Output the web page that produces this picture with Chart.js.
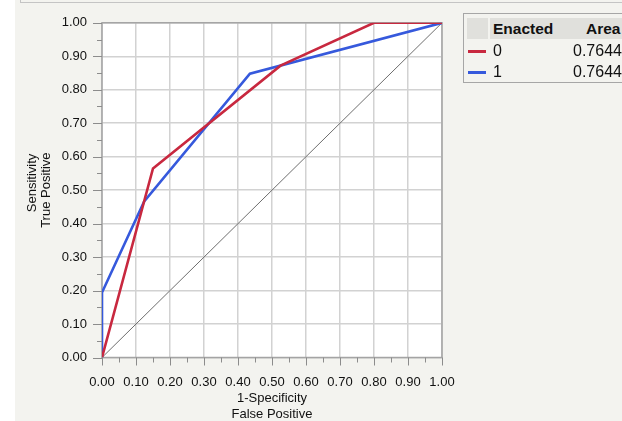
<!DOCTYPE html>
<html>
<head>
<meta charset="utf-8">
<script src="https://cdn.jsdelivr.net/npm/chart.js@4/dist/chart.umd.min.js"></script>
<style>
  html, body { margin: 0; padding: 0; }
  body {
    width: 622px; height: 421px; overflow: hidden; position: relative;
    background: #f3f3ef; font-family: "Liberation Sans", Arial, sans-serif;
  }
  #whiteStrip { position: absolute; left: 0; top: 0; width: 15px; height: 421px; background: #fff; }
  #topEdge { position: absolute; left: 20px; top: -10px; width: 700px; height: 11px; border: 1px solid #c4c4c4; }
  #wrap { position: absolute; left: 0; top: 0; width: 622px; height: 425px; }
  #legendBox {
    position: absolute; left: 463px; top: 13px; width: 200px; height: 68px;
    border: 1px solid #a6a6a6; color: #111;
  }
  .hdr { position: absolute; top: 4px; height: 21px; background: #e0e0dc; }
  .hdrText { font-weight: bold; font-size: 15.5px; line-height: 21px; padding-left: 3px; }
  .row { position: absolute; left: 0; width: 200px; height: 20px; font-size: 16px; line-height: 20px; }
  .swatch { position: absolute; left: 4px; top: 9px; width: 18px; height: 3px; }
  .grp { position: absolute; left: 29px; }
  .area { position: absolute; left: 109px; }
</style>
</head>
<body>
<div id="whiteStrip"></div>
<div id="topEdge"></div>
<div id="wrap"><canvas id="roc" width="622" height="425"></canvas></div>
<div id="legendBox">
  <div class="hdr" style="left:3px;width:21px;"></div>
  <div class="hdr hdrText" style="left:26px;width:71px;">Enacted</div>
  <div class="hdr hdrText" style="left:99px;width:120px;padding-left:23px;">Area</div>
  <div id="legendRows"></div>
</div>
<script>
// ROC points
const fprEnacted0 = [0, 0.15, 0.525, 0.80, 1.00];
const tprEnacted0 = [0, 0.565, 0.872, 1.00, 1.00];
const fprEnacted1 = [0, 0, 0.124, 0.435, 1.00];
const tprEnacted1 = [0, 0.194, 0.466, 0.848, 1.00];
const diagX = [0, 1];
const diagY = [0, 1];

const groupLabels = ['0', '1'];
const areaValues = ['0.7644', '0.7644'];
const groupColors = ['#c8283f', '#3659dc'];

function toPoints(xs, ys) {
    return xs.map((x, i) => ({ x: x, y: ys[i] }));
}

// legend table rows
const rowsDiv = document.getElementById('legendRows');
groupLabels.forEach((g, i) => {
    const row = document.createElement('div');
    row.className = 'row';
    row.style.top = (27 + i * 21) + 'px';
    row.innerHTML = '<div class="swatch" style="background:' + groupColors[i] + '"></div>' +
        '<span class="grp">' + g + '</span><span class="area">' + areaValues[i] + '</span>';
    rowsDiv.appendChild(row);
});

function isMajor(v) {
    return Math.round(v * 100) % 10 === 0;
}

// white plot area, frame, and major/minor tick marks
const plotFrame = {
    id: 'plotFrame',
    beforeDraw(chart) {
        const { ctx, chartArea: a } = chart;
        ctx.save();
        ctx.fillStyle = '#ffffff';
        ctx.fillRect(a.left, a.top, a.width, a.height);
        ctx.restore();
    },
    beforeDatasetsDraw(chart) {
        const { ctx, chartArea: a } = chart;
        ctx.save();
        ctx.strokeStyle = '#a4a4a4';
        ctx.lineWidth = 1.5;
        ctx.strokeRect(a.left, a.top, a.width, a.height);
        ctx.restore();
    },
    afterDraw(chart) {
        const { ctx, chartArea: a } = chart;
        const xs = chart.scales.x, ys = chart.scales.y;
        ctx.save();
        ctx.strokeStyle = '#8c8c8c';
        ctx.lineWidth = 1;
        ys.ticks.forEach(t => {
            const y = Math.round(ys.getPixelForValue(t.value)) + 0.5;
            const len = isMajor(t.value) ? 9 : 5;
            ctx.beginPath();
            ctx.moveTo(a.left - len, y);
            ctx.lineTo(a.left, y);
            ctx.stroke();
        });
        xs.ticks.forEach(t => {
            const x = Math.round(xs.getPixelForValue(t.value)) + 0.5;
            const len = isMajor(t.value) ? 8 : 5;
            ctx.beginPath();
            ctx.moveTo(x, a.bottom);
            ctx.lineTo(x, a.bottom + len);
            ctx.stroke();
        });
        ctx.restore();
    }
};

const tickFont = { family: 'Liberation Sans', size: 13 };

new Chart(document.getElementById('roc'), {
    type: 'scatter',
    data: {
        datasets: [
            {
                label: groupLabels[0],
                data: toPoints(fprEnacted0, tprEnacted0),
                showLine: true,
                borderColor: groupColors[0],
                borderWidth: 2.6,
                pointRadius: 0,
                tension: 0
            },
            {
                label: groupLabels[1],
                data: toPoints(fprEnacted1, tprEnacted1),
                showLine: true,
                borderColor: groupColors[1],
                borderWidth: 2.6,
                pointRadius: 0,
                tension: 0
            },
            {
                label: 'diagonal',
                data: toPoints(diagX, diagY),
                showLine: true,
                borderColor: '#6e6e6e',
                borderWidth: 1,
                pointRadius: 0
            }
        ]
    },
    options: {
        responsive: false,
        animation: false,
        layout: { padding: { left: 20, right: 180, top: 17.5, bottom: 0 } },
        plugins: {
            legend: { display: false },
            tooltip: { enabled: false }
        },
        scales: {
            x: {
                type: 'linear',
                min: 0,
                max: 1,
                border: { display: false },
                grid: {
                    drawTicks: false,
                    lineWidth: 1.5,
                    color: ctx => isMajor(ctx.tick.value) ? '#d2d2d2' : 'rgba(0,0,0,0)'
                },
                ticks: {
                    stepSize: 0.05,
                    autoSkip: false,
                    maxRotation: 0,
                    padding: 17,
                    color: '#111',
                    font: tickFont,
                    callback: v => isMajor(v) ? v.toFixed(2) : ''
                },
                title: {
                    display: true,
                    text: ['1-Specificity', 'False Positive'],
                    color: '#111',
                    font: { family: 'Liberation Sans', size: 13, lineHeight: 1.28 },
                    padding: { top: 0, bottom: 2 }
                },
                afterFit: scale => { scale.height = 67.5; }
            },
            y: {
                type: 'linear',
                min: 0,
                max: 1,
                border: { display: false },
                grid: {
                    drawTicks: false,
                    lineWidth: 1.5,
                    color: ctx => isMajor(ctx.tick.value) ? '#d2d2d2' : 'rgba(0,0,0,0)'
                },
                ticks: {
                    stepSize: 0.05,
                    autoSkip: false,
                    padding: 15,
                    color: '#111',
                    font: tickFont,
                    callback: v => isMajor(v) ? v.toFixed(2) : ''
                },
                title: {
                    display: true,
                    // leading spaces keep both lines flush at the top, as in the original
                    text: ['    Sensitivity', 'True Positive'],
                    color: '#111',
                    font: { family: 'Liberation Sans', size: 13, lineHeight: 1.08 },
                    padding: { top: 5, bottom: 0 }
                },
                afterFit: scale => { scale.width = 82; }
            }
        }
    },
    plugins: [plotFrame]
});
</script>
</body>
</html>
